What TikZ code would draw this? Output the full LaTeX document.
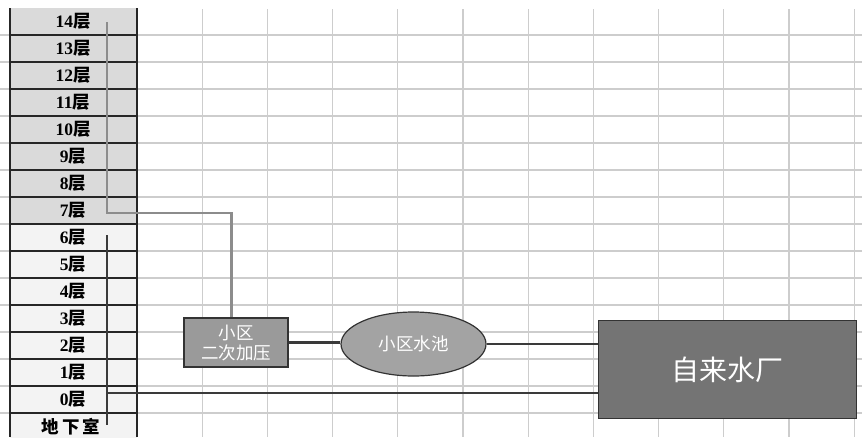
\documentclass[tikz,border=0pt]{standalone}
\usepackage{fontspec}
\setmainfont{Liberation Serif}
\newfontfamily\cjk{Noto Sans CJK SC}
\usetikzlibrary{shapes.geometric}
\definecolor{gridc}{HTML}{CDCDCD}
\definecolor{upperc}{HTML}{DADADA}
\definecolor{lowerc}{HTML}{F3F3F3}
\definecolor{pumpc}{HTML}{9A9A9A}
\definecolor{poolc}{HTML}{A3A3A3}
\definecolor{plantc}{HTML}{747474}
\definecolor{pipeg}{HTML}{8C8C8C}
\definecolor{piped}{HTML}{3A3A3A}
\newcommand{\floorlab}[1]{{\bfseries #1}{\cjk\bfseries 层}}
\begin{document}
\begin{tikzpicture}[x=1pt,y=-1pt,
  gridline/.style={draw=gridc,line width=1.3pt},
  cellline/.style={draw=black!85,line width=1.3pt},
  floortext/.style={font=\fontsize{17.5}{19}\selectfont,inner sep=0pt,anchor=center},
  graypipe/.style={draw=pipeg,line width=2.2pt},
  darkpipe/.style={draw=piped,line width=2.2pt},
  conn/.style={draw=piped,line width=2.6pt},
  pumpbox/.style={draw=black!80,line width=1.2pt,fill=pumpc,text=white,minimum width=104pt,minimum height=49pt,align=center,inner sep=0pt,font=\cjk\fontsize{17.5}{20}\selectfont},
  pool/.style={ellipse,draw=black!80,line width=1.2pt,fill=poolc,text=white,minimum width=145pt,minimum height=64pt,inner sep=0pt,font=\cjk\fontsize{17.5}{19}\selectfont},
  plant/.style={draw=black!80,line width=1.2pt,fill=plantc,text=white,minimum width=258pt,minimum height=98pt,inner sep=0pt,font=\cjk\fontsize{28}{32}\selectfont}]
\useasboundingbox (0,0) rectangle (862,437);
\fill[white] (0,0) rectangle (862,437);
% grid
\foreach \i in {0,...,10} \draw[gridline] ({202.2+65.2*\i},9) -- ({202.2+65.2*\i},437);
\foreach \j in {0,...,14} {
  \draw[gridline] (137,{35+27*\j}) -- (862,{35+27*\j});
  \draw[gridline] (0,{35+27*\j}) -- (9,{35+27*\j});
}
% floor column cells
\foreach \k in {0,...,7} \fill[upperc] (10,{8+27*\k}) rectangle (137,{35+27*\k});
\foreach \k in {8,...,15} \fill[lowerc] (10,{8+27*\k}) rectangle (137,{35+27*\k});
\foreach \j in {0,...,14} \draw[cellline] (10,{35+27*\j}) -- (137,{35+27*\j});
\draw[cellline] (10,8) -- (10,437);
\draw[cellline] (137,8) -- (137,437);
% floor labels
\node[floortext] (f14) at (73,21.5) {\floorlab{14}};
\node[floortext] (f13) at (73,48.5) {\floorlab{13}};
\node[floortext] (f12) at (73,75.5) {\floorlab{12}};
\node[floortext] (f11) at (73,102.5) {\floorlab{11}};
\node[floortext] (f10) at (73,129.5) {\floorlab{10}};
\node[floortext] (f9) at (73,156.5) {\floorlab{9}};
\node[floortext] (f8) at (73,183.5) {\floorlab{8}};
\node[floortext] (f7) at (73,210.5) {\floorlab{7}};
\node[floortext] (f6) at (73,237.5) {\floorlab{6}};
\node[floortext] (f5) at (73,264.5) {\floorlab{5}};
\node[floortext] (f4) at (73,291.5) {\floorlab{4}};
\node[floortext] (f3) at (73,318.5) {\floorlab{3}};
\node[floortext] (f2) at (73,345.5) {\floorlab{2}};
\node[floortext] (f1) at (73,372.5) {\floorlab{1}};
\node[floortext] (f0) at (73,399.5) {\floorlab{0}};
\node[floortext] (fb) at (71,426.5) {\cjk\bfseries 地\hspace{3pt}下\hspace{3pt}室};
% equipment
\node[pumpbox] (pump) at (236,342.5) {小区\\二次加压};
\node[pool] (pool) at (413.5,344) {小区水池};
\node[plant] (plant) at (727.8,369.8) {自来水厂};
% pipes
\coordinate (g1) at (107,22);
\coordinate (g2) at (107,213);
\draw[graypipe] (g1) -- (g2) -| ([xshift=-4.5pt]pump.north);
\coordinate (d1) at (107,235);
\coordinate (d2) at (107,425);
\coordinate (d3) at (107,393);
\draw[darkpipe] (d1) -- (d2);
\draw[darkpipe] (d3) -- (d3 -| plant.west);
\draw[conn] (pump.east) -- (pump.east -| pool.west);
\draw[conn] (pool.east) -- (pool.east -| plant.west);
\end{tikzpicture}
\end{document}
